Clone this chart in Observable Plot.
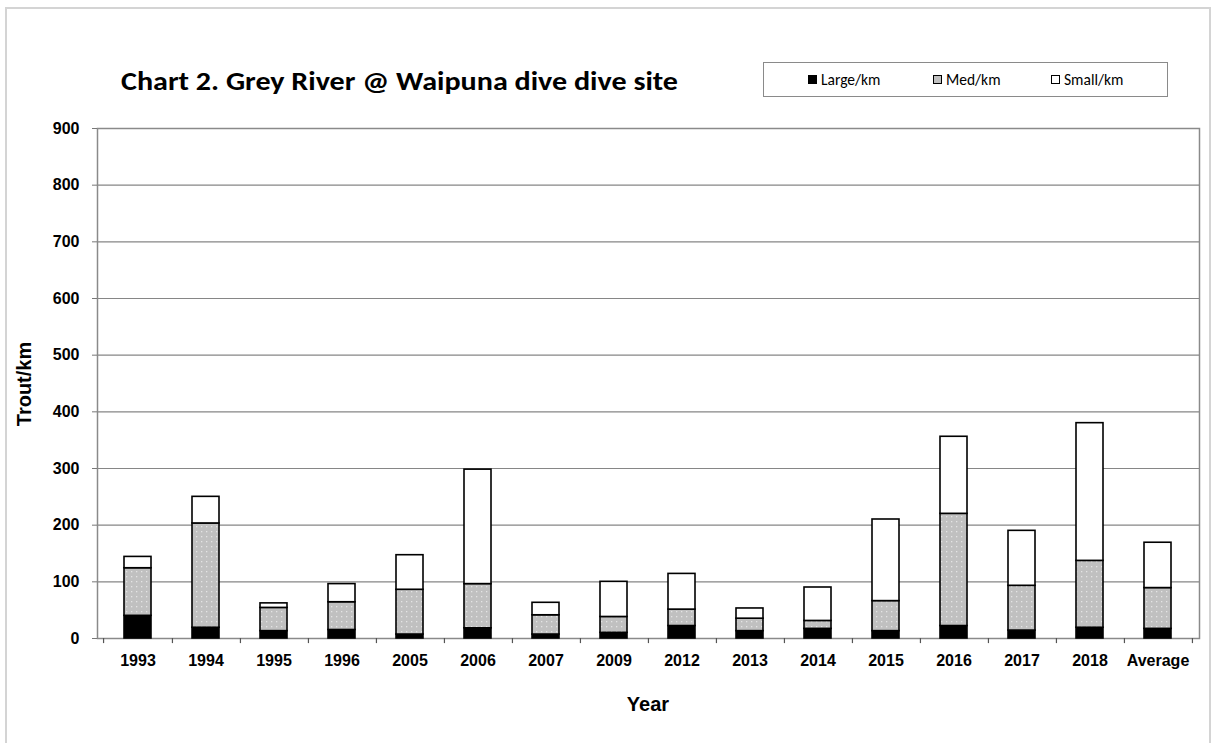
<!DOCTYPE html>
<html>
<head>
<meta charset="utf-8">
<script src="https://cdn.jsdelivr.net/npm/d3@7"></script>
<script src="https://cdn.jsdelivr.net/npm/@observablehq/plot@0.6"></script>
<style>
  html, body { margin: 0; padding: 0; background: #fff; }
  #wrap { position: relative; width: 1215px; height: 743px; overflow: hidden; }
  #wrap svg.plot text { font-weight: bold; font-size: 16px; font-family: "Liberation Sans", Arial, sans-serif; }
  #border { position: absolute; left: 5px; top: 7px; width: 1206px; height: 760px; border: 2px solid #d4d4d4; box-sizing: border-box; }
  #legend { position: absolute; left: 763px; top: 62px; width: 405px; height: 35px; border: 1px solid #8a8a8a; box-sizing: border-box; background: #fff;
    font-family: Carlito, "Open Sans", "Liberation Sans", sans-serif; font-size: 15.5px; color: #000; }
  .li { position: absolute; top: 7px; display: flex; align-items: center; white-space: nowrap; }
  .sw { width: 7px; height: 7px; border: 1px solid #000; margin-right: 4px; }
</style>
</head>
<body>
<div id="wrap">
  <div id="border"></div>
</div>
<script>
// ---- data ----
const years = ["1993","1994","1995","1996","2005","2006","2007","2009","2012","2013","2014","2015","2016","2017","2018","Average"];
const large = [40, 19, 13, 15, 7, 18, 7, 10, 22, 13, 17, 13, 22, 14, 19, 17];
const med   = [84, 184, 41, 49, 79, 78, 34, 28, 29, 22, 14, 53, 198, 79, 118, 72];
const small = [20, 47, 8, 32, 61, 202, 22, 62, 63, 18, 59, 144, 136, 97, 243, 80];
const seriesNames = ["Large/km", "Med/km", "Small/km"];
const seriesColors = ["#000000", "url(#medDots)", "#ffffff"];
const yTicks = [0, 100, 200, 300, 400, 500, 600, 700, 800, 900];
const titleText = "Chart 2. Grey River @ Waipuna dive dive site";
const xLabel = "Year";
const yLabel = "Trout/km";

const rows = years.flatMap((yr, i) => [
  {year: yr, series: seriesNames[0], value: large[i]},
  {year: yr, series: seriesNames[1], value: med[i]},
  {year: yr, series: seriesNames[2], value: small[i]}
]);

const W = 1215, H = 743;
const mL = 97, mR = 16, mT = 128, mB = 105;
const step = (W - mL - mR) / years.length;

const chart = Plot.plot({
  width: W, height: H,
  marginLeft: mL, marginRight: mR, marginTop: mT, marginBottom: mB,
  style: {fontFamily: "'Liberation Sans', Arial, sans-serif", fontSize: "16px", color: "#000", background: "transparent"},
  x: {domain: years, paddingInner: 0.6, paddingOuter: 0.3, label: null},
  y: {domain: [0, 900], label: null},
  color: {domain: seriesNames, range: seriesColors},
  marks: [
    Plot.gridY(yTicks, {stroke: "#868686", strokeOpacity: 1, strokeWidth: 1.2}),
    Plot.frame({stroke: "#8a8a8a", strokeWidth: 1.5}),
    Plot.barY(rows, {x: "year", y: "value", fill: "series", order: seriesNames, stroke: "#000", strokeWidth: 1.6}),
    Plot.axisY(yTicks, {tickSize: 5, tickPadding: 13, stroke: "#777", fill: "#000", fontSize: 16, label: null}),
    Plot.axisX({tickSize: 0, tickPadding: 16, fill: "#000", fontSize: 16, label: null}),
    Plot.ruleX(years, {x: d => d, dx: step / 2, y1: 0, y2: -9, stroke: "#555", strokeWidth: 1.2}),
    Plot.ruleX([years[0]], {x: d => d, dx: -step / 2, y1: 0, y2: -9, stroke: "#555", strokeWidth: 1.2})
  ]
});
chart.classList.add("plot");
chart.style.position = "absolute";
chart.style.left = "0px";
chart.style.top = "0px";

// pattern for the Med series
const ns = "http://www.w3.org/2000/svg";
const defs = document.createElementNS(ns, "defs");
defs.innerHTML = `<pattern id="medDots" patternUnits="userSpaceOnUse" width="5" height="5">
  <rect width="5" height="5" fill="#c0c0c0"></rect>
  <rect x="1" y="1" width="1.3" height="1.3" fill="#e4e4e4"></rect>
</pattern>`;
chart.insertBefore(defs, chart.firstChild);

// titles / axis labels as real text
const txt = (x, y, s, attrs, style) => {
  const t = document.createElementNS(ns, "text");
  t.setAttribute("x", x); t.setAttribute("y", y);
  for (const k in attrs) t.setAttribute(k, attrs[k]);
  t.setAttribute("style", style);
  t.textContent = s;
  chart.appendChild(t);
  return t;
};
txt(121, 90, titleText, {"text-anchor": "start", textLength: 557, lengthAdjust: "spacingAndGlyphs", fill: "#000"},
  "font-family: Carlito, 'Open Sans', sans-serif; font-size: 27px; font-weight: bold;");
txt(mL + (W - mL - mR) / 2, 711, xLabel, {"text-anchor": "middle", fill: "#000"},
  "font-family: 'Liberation Sans', Arial, sans-serif; font-size: 20px; font-weight: bold;");
txt(0, 0, yLabel, {"text-anchor": "middle", fill: "#000", transform: "translate(31,384) rotate(-90)"},
  "font-family: 'Liberation Sans', Arial, sans-serif; font-size: 20px; font-weight: bold;");

document.getElementById("wrap").appendChild(chart);

// legend
const legend = document.createElement("div");
legend.id = "legend";
const legendX = [44, 169, 287];
seriesNames.forEach((s, i) => {
  const item = document.createElement("div");
  item.className = "li";
  item.style.left = legendX[i] + "px";
  const sw = document.createElement("div");
  sw.className = "sw";
  sw.style.background = i === 1 ? "#c0c0c0" : seriesColors[i];
  const lab = document.createElement("span");
  lab.textContent = s;
  item.appendChild(sw); item.appendChild(lab);
  legend.appendChild(item);
});
document.getElementById("wrap").appendChild(legend);
</script>
</body>
</html>
